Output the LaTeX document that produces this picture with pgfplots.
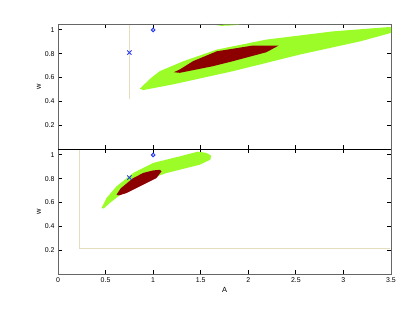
\documentclass[border=0pt]{standalone}
\usepackage{pgfplots}
\pgfplotsset{compat=1.18}
\usepackage{fontspec}
\setmainfont{Liberation Sans}
\definecolor{cgreen}{RGB}{155,252,40}
\definecolor{cred}{RGB}{140,0,0}
\definecolor{cblue}{RGB}{40,60,240}
\definecolor{ctan}{RGB}{230,220,190}
\pgfplotsset{
  myax/.style={
    scale only axis, width=333bp, height=125bp,
    xmin=0, xmax=3.5, ymin=0, ymax=1.05,
    xtick={0,0.5,...,3.5}, ytick={0.2,0.4,0.6,0.8,1},
    tick pos=both,
    tick align=inside,
    major tick length=4bp,
    major tick style={draw=black, line width=1pt},
    axis line style={black!60, line width=0.8pt},
    ticklabel style={font=\fontsize{7}{8}\selectfont},
    /pgf/number format/assume math mode=true,
    label style={font=\fontsize{7.5}{9}\selectfont},
    ylabel={w},
    ylabel style={yshift=-3bp},
  }
}
\begin{document}
\begin{tikzpicture}
\path[use as bounding box] (0,0) rectangle (415bp,312bp);
% top axis
\begin{axis}[myax, at={(58bp,163bp)}, anchor=south west, xticklabels={}]
\addplot[fill=cgreen, draw=none] coordinates {
(0.86,0.507) (0.98,0.598) (1.07,0.654) (1.32,0.738) (1.67,0.835) (2.19,0.919) (2.89,0.988) (3.49,1.025) (3.5,1.02)
(3.5,0.975) (3.18,0.905) (2.54,0.793) (1.84,0.654) (1.21,0.543) (0.895,0.495) (0.86,0.507)};
\addplot[fill=cgreen, draw=none] coordinates {
(1.66,1.033) (1.80,1.037) (1.92,1.045) (1.75,1.045) (1.66,1.033)};
\addplot[fill=cred, draw=none] coordinates {
(1.218,0.645) (1.28,0.668) (1.42,0.738) (1.67,0.821) (2.05,0.869) (2.32,0.869)
(2.19,0.813) (1.84,0.738) (1.63,0.696) (1.28,0.64) (1.218,0.645)};
\addplot[ctan, line width=0.6pt] coordinates {(0.75,1.04) (0.75,0.42)};
\addplot[cblue, only marks, mark=x, mark size=3pt, line width=0.9pt] coordinates {(0.75,0.81)};
\addplot[cblue, only marks, mark=o, mark size=1.8pt, line width=1pt] coordinates {(1,1)};
\end{axis}
% bottom axis
\begin{axis}[myax, at={(58bp,38bp)}, anchor=south west, xlabel={A},
  xlabel style={yshift=2bp},
  xticklabels={0,0.5,1,1.5,2,2.5,3,3.5}]
\addplot[fill=cgreen, draw=none] coordinates {
(0.457,0.554) (0.51,0.638) (0.615,0.736) (0.79,0.848) (1.0,0.933) (1.28,0.988) (1.47,1.028)
(1.56,1.017) (1.61,0.994) (1.60,0.96) (1.49,0.918) (1.14,0.848) (0.79,0.75) (0.544,0.596) (0.48,0.55) (0.457,0.554)};
\addplot[fill=cred, draw=none] coordinates {
(0.615,0.666) (0.66,0.72) (0.79,0.806) (0.90,0.85) (1.0,0.87) (1.07,0.875) (1.088,0.862)
(1.035,0.806) (0.86,0.736) (0.72,0.68) (0.64,0.66) (0.615,0.666)};
\addplot[ctan, line width=0.7pt] coordinates {(0.228,1.04) (0.228,0.213) (3.49,0.213)};
\addplot[cblue, only marks, mark=x, mark size=3pt, line width=0.9pt] coordinates {(0.75,0.81)};
\addplot[cblue, only marks, mark=o, mark size=1.8pt, line width=1pt] coordinates {(1,1)};
\draw[black, line width=0.9pt] (rel axis cs:0,1) -- (rel axis cs:1,1);
\end{axis}
\end{tikzpicture}
\end{document}
